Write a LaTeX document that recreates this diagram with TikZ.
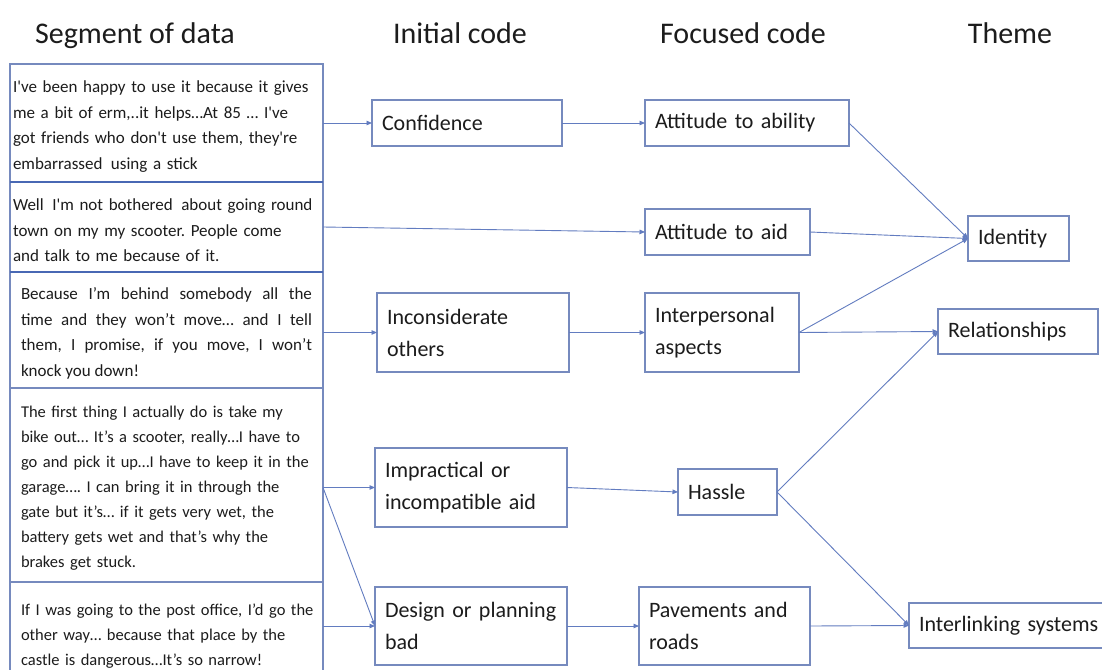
\documentclass[tikz,border=0pt]{standalone}
\usepackage{fontspec}
\setmainfont{Carlito}
\usetikzlibrary{arrows.meta}

\definecolor{boxline}{RGB}{118,138,190}
\definecolor{sepline}{RGB}{72,104,180}
\definecolor{linkline}{RGB}{98,124,192}
\definecolor{ink}{RGB}{28,28,28}
\newcommand{\sq}{\textquotesingle}
% one unbreakable line of a quotation
\newcommand{\qline}[1]{\mbox{#1}}
% raises the first line so the block sits a little lower in its box
\newcommand{\qtop}{\rule{0pt}{18.5pt}}
\frenchspacing

\tikzset{
  x=1pt, y=-1pt,
  quote/.style={draw=boxline, line width=1.4pt, outer sep=0pt, anchor=north west,
    inner ysep=0pt, minimum width=313pt, text=ink,
    font=\fontsize{17}{25.5}\selectfont\frenchspacing},
  quoteA/.style={quote, align=left, inner xsep=3pt, text width=307pt},
  quoteB/.style={quote, align=left, inner xsep=11pt, text width=291pt,
    font=\fontsize{16.5}{25}\selectfont\frenchspacing},
  code/.style={draw=boxline, line width=1.8pt, outer sep=0pt, anchor=north west,
    align=left, inner xsep=10pt, inner ysep=0pt, text=ink,
    font=\fontsize{22}{32}\selectfont},
  head/.style={anchor=base, text=ink, font=\fontsize{30}{36}\selectfont},
  link/.style={draw=linkline, line width=0.9pt,
    -{Triangle[length=5.5pt,width=4.5pt]}},
}

\begin{document}
\begin{tikzpicture}
  \fill[white] (0,0) rectangle (1102,669);
  \clip (0,0) rectangle (1102,669);

  % column headings
  \node[head] (h1) at (135,44) {Segment of data};
  \node[head] (h2) at (460,44) {Initial code};
  \node[head] (h3) at (743,44) {Focused code};
  \node[head] (h4) at (1010,44) {Theme};

  % segments of data
  \node[quoteA, minimum height=118pt] (q1) at (10,64)
    {\qtop\qline{I\sq ve been happy to use it because it gives}\\
     \qline{me a bit of erm,..it helps…At 85 … I\sq ve}\\
     \qline{got friends who don\sq t use them, they\sq re}\\
     \qline{embarrassed\, using a stick}};
  \node[quoteA, minimum height=90pt] (q2) at (10,182)
    {\qtop\qline{Well\, I\sq m not bothered\, about going round}\\
     \qline{town on my my scooter. People come}\\
     \qline{and talk to me because of it.}};
  \node[quote, align=justify, inner xsep=11pt, text width=291pt,
        minimum height=116pt] (q3) at (10,272)
    {\qtop Because I’m behind somebody all the\linebreak
     time and they won’t move… and I tell\linebreak
     them, I promise, if you move, I won’t\linebreak
     knock you down!};
  \node[quoteB, minimum height=194pt] (q4) at (10,388)
    {\qtop\qline{The first thing I actually do is take my}\\
     \qline{bike out… It’s a scooter, really…I have to}\\
     \qline{go and pick it up…I have to keep it in the}\\
     \qline{garage…. I can bring it in through the}\\
     \qline{gate but it’s… if it gets very wet, the}\\
     \qline{battery gets wet and that’s why the}\\
     \qline{brakes get stuck.}};
  \node[quoteB, minimum height=102pt] (q5) at (10,582)
    {\qtop\qline{If I was going to the post office, I’d go the}\\
     \qline{other way… because that place by the}\\
     \qline{castle is dangerous…It’s so narrow!}};
  \draw[sepline, line width=2.4pt] (q1.south west) -- (q1.south east);
  \draw[sepline, line width=2.2pt] (q2.south west) -- (q2.south east);

  % initial codes
  \node[code, minimum width=190pt, minimum height=46pt, text width=170pt] (conf) at (372,100) {Confidence};
  \node[code, minimum width=192pt, minimum height=79pt, text width=172pt] (incons) at (377,293) {Inconsiderate\\others};
  \node[code, minimum width=192pt, minimum height=79pt, text width=172pt] (impr) at (375,448) {Impractical or\\incompatible aid};
  \node[code, minimum width=192pt, minimum height=78pt, text width=172pt] (design) at (375,587) {Design or planning\\bad};

  % focused codes
  \node[code, minimum width=204pt, minimum height=46pt, text width=184pt] (abil) at (645,100) {Attitude to ability};
  \node[code, minimum width=165pt, minimum height=46pt, text width=145pt] (aid) at (645,209) {Attitude to aid};
  \node[code, minimum width=154pt, minimum height=79pt, text width=134pt] (inter) at (645,293) {Interpersonal\\aspects};
  \node[code, minimum width=99pt, minimum height=46pt, text width=79pt] (hassle) at (678,469) {Hassle};
  \node[code, minimum width=171pt, minimum height=78pt, text width=151pt] (pave) at (639,587) {Pavements and\\roads};

  % themes
  \node[code, minimum width=101pt, minimum height=45pt, text width=81pt] (ident) at (968,216) {Identity};
  \node[code, minimum width=160pt, minimum height=45pt, text width=140pt] (rel) at (938,309) {Relationships};
  \node[code, minimum width=205pt, minimum height=45pt, text width=185pt] (interl) at (909,603) {Interlinking systems};

  % data -> initial codes
  \coordinate (q3out) at (q3.east |- incons.west);
  \coordinate (q4out) at (q4.east |- impr.west);
  \coordinate (q5out) at (q5.east |- design.west);
  \draw[link] (q1.east) -- (conf.west);
  \draw[link] (q2.east) -- (aid.west);
  \draw[link] (q3out) -- (incons.west);
  \draw[link] (q4out) -- (impr.west);
  \draw[link] (q4out) -- (design.west);
  \draw[link] (q5out) -- (design.west);

  % initial -> focused codes
  \draw[link] (conf.east) -- (abil.west);
  \draw[link] (incons.east) -- (inter.west);
  \draw[link] (impr.east) -- (hassle.west);
  \draw[link] (design.east) -- (pave.west);

  % focused codes -> themes
  \draw[link] (abil.east) -- (ident.west);
  \draw[link] (aid.east) -- (ident.west);
  \draw[link] (inter.east) -- (ident.west);
  \draw[link] (inter.east) -- (rel.west);
  \draw[link] (hassle.east) -- (rel.west);
  \draw[link] (hassle.east) -- (interl.west);
  \draw[link] (pave.east) -- (interl.west);
\end{tikzpicture}
\end{document}
